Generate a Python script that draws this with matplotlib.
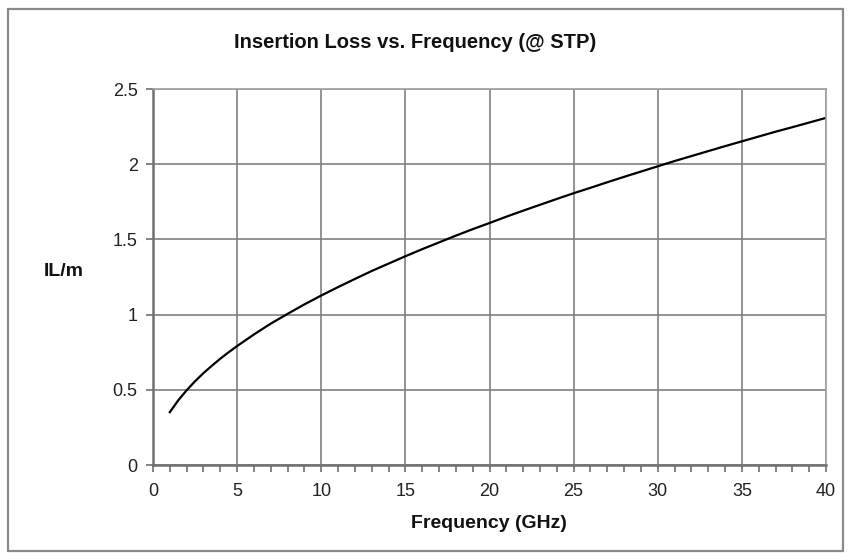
import matplotlib
matplotlib.use("Agg")
import matplotlib.pyplot as plt
from matplotlib.patches import Rectangle
from matplotlib.ticker import MultipleLocator, FuncFormatter

# --- Data (IL per metre vs GHz) ---
freq_ghz = [1, 1.5, 2, 2.5, 3, 3.5, 4, 4.5, 5, 6, 7, 8, 9, 10,
            11, 12, 13, 14, 15, 16, 17, 18, 19, 20,
            21, 22, 23, 24, 25, 26, 27, 28, 29, 30,
            31, 32, 33, 34, 35, 36, 37, 38, 39, 40]
il_per_m = [0.351, 0.430, 0.497, 0.557, 0.611, 0.660, 0.707, 0.750, 0.791, 0.868,
            0.940, 1.005, 1.068, 1.127,
            1.183, 1.237, 1.290, 1.339, 1.388, 1.435, 1.480, 1.525, 1.568, 1.609,
            1.651, 1.691, 1.730, 1.769, 1.807, 1.843, 1.880, 1.916, 1.951, 1.986,
            2.021, 2.054, 2.087, 2.120, 2.152, 2.184, 2.216, 2.246, 2.277, 2.308]

title = "Insertion Loss vs. Frequency (@ STP)"
x_label = "Frequency (GHz)"
y_label = "IL/m"

plt.rcParams['font.family'] = ['Liberation Sans', 'DejaVu Sans']

fig = plt.figure(figsize=(8.51, 5.60), dpi=100)
W, H = 851, 560

# chart area border
fig.patches.append(Rectangle((8 / W, 1 - 551 / H), (843 - 8) / W, (551 - 9) / H,
                             transform=fig.transFigure, fill=False,
                             edgecolor='#8a8a8a', linewidth=1.6))

ax = fig.add_axes([153 / W, 1 - 465 / H, (826 - 153) / W, (465 - 89) / H])

ax.plot(freq_ghz, il_per_m, color='black', linewidth=1.6)

ax.set_xlim(0, 40)
ax.set_ylim(0, 2.5)
ax.xaxis.set_major_locator(MultipleLocator(5))
ax.xaxis.set_minor_locator(MultipleLocator(1))
ax.yaxis.set_major_locator(MultipleLocator(0.5))
ax.yaxis.set_major_formatter(FuncFormatter(lambda v, p: f"{v:g}"))

ax.grid(True, which='major', color='#808080', linewidth=1.2)
ax.set_axisbelow(True)

for side in ['top', 'right']:
    ax.spines[side].set_color('#a0a0a0')
    ax.spines[side].set_linewidth(1.2)
for side in ['left', 'bottom']:
    ax.spines[side].set_color('#707070')
    ax.spines[side].set_linewidth(1.8)

ax.tick_params(which='both', direction='out', color='#707070', width=1.2, length=5,
               labelsize=13, labelcolor='#222222')
ax.tick_params(axis='x', which='major', pad=8)
ax.tick_params(axis='y', which='major', pad=6)

fig.text(415 / W, 1 - 42 / H, title, ha='center', va='center',
         fontsize=14.5, fontweight='bold', color='#111111')
fig.text(489 / W, 1 - 524 / H, x_label, ha='center', va='center',
         fontsize=14, fontweight='bold', color='#111111')
fig.text(64 / W, 1 - 272 / H, y_label, ha='center', va='center',
         fontsize=14, fontweight='bold', color='#111111')

fig.savefig("out.png", dpi=100)
